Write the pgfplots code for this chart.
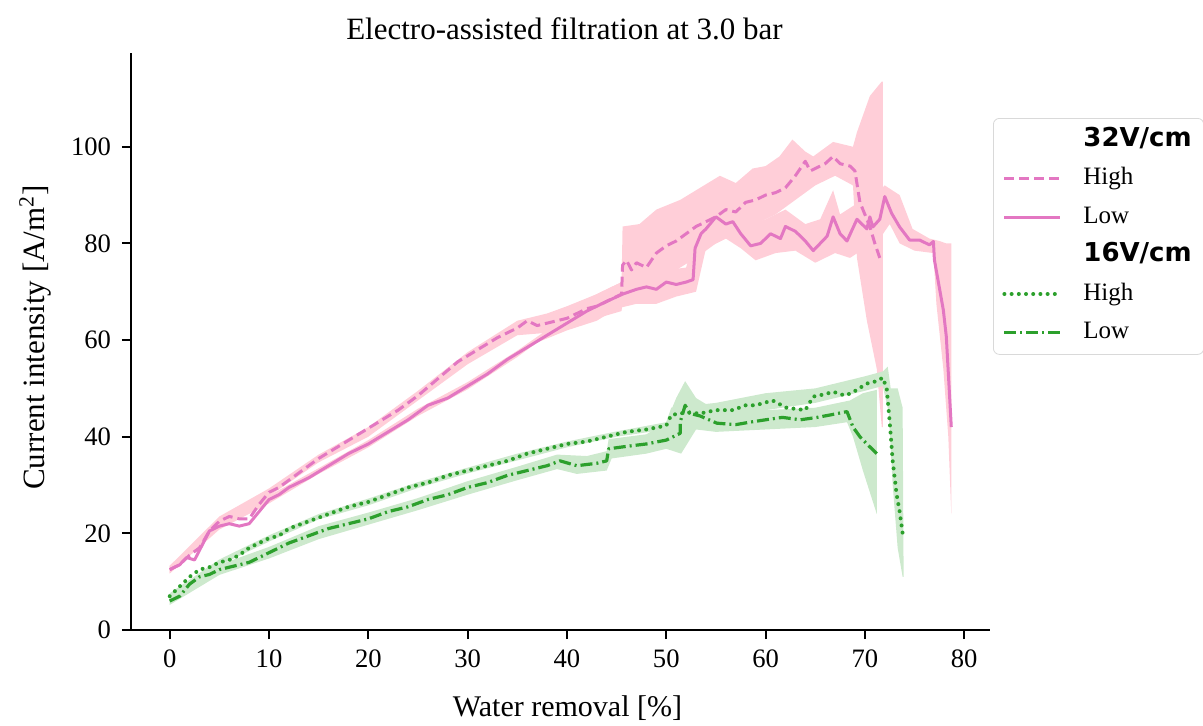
\documentclass[border=0pt]{standalone}
\usepackage{pgfplots}
\pgfplotsset{compat=1.18}
\usepackage{fontspec}
\setmainfont{Liberation Serif}
\newfontfamily\headfont{DejaVu Sans}
\definecolor{pinkline}{RGB}{227,119,194}
\definecolor{pinkband}{RGB}{255,206,216}
\definecolor{greenline}{RGB}{44,160,44}
\definecolor{greenband}{RGB}{205,233,205}
\tikzset{
  hi32/.style={pinkline, line width=1.5pt, dash pattern=on 5pt off 2.5pt},
  lo32/.style={pinkline, line width=1.5pt},
  hi16/.style={greenline, line width=2pt, line cap=round, dash pattern=on 0pt off 3.6pt},
  lo16/.style={greenline, line width=1.6pt, dash pattern=on 6pt off 2pt on 1pt off 2pt},
}
\begin{document}
\begin{tikzpicture}
\begin{axis}[
  scale only axis, width=429.5pt, height=288.5pt,
  xmin=-3.9, xmax=82.6, ymin=0, ymax=119.4,
  axis x line*=bottom, axis y line*=left,
  axis line style={-, line width=1pt},
  xtick={0,10,...,80}, ytick={0,20,...,100},
  tick align=outside, major tick length=4.5pt,
  tick style={line width=1pt, black},
  /pgf/number format/assume math mode=true,
  tick label style={font=\fontsize{13.3}{15}\selectfont},
  xticklabel style={yshift=-2pt},
  yticklabel style={xshift=-2pt},
  label style={font=\fontsize{15}{18}\selectfont},
  xlabel={Water removal [\%]},
  ylabel={Current intensity [A/m\textsuperscript{2}]},
  xlabel style={at={(axis description cs:0.5,0)}, anchor=center, yshift=-39pt, xshift=3.5pt},
  ylabel style={at={(axis description cs:0,0.5)}, anchor=center, yshift=48pt, xshift=2pt, font=\fontsize{15.5}{18}\selectfont},
  title={Electro-assisted filtration at 3.0 bar},
  title style={at={(axis description cs:0.5,1)}, anchor=center, yshift=6pt, xshift=2pt, font=\fontsize{15.5}{18}\selectfont},
  line join=round,
  legend image code/.code={\draw[#1] (0pt,0pt) -- (28pt,0pt);},
  legend cell align=left,
  legend style={at={(axis description cs:1,1)}, anchor=north west, xshift=1.5pt, yshift=-32.5pt,
    draw=black!15, rounded corners=3pt, fill=white, font=\fontsize{12.5}{14}\selectfont,
    inner xsep=4.5pt, inner ysep=3.5pt, row sep=4.2pt, column sep=9pt,
    nodes={inner sep=1.5pt, text height=9pt, text depth=3pt}},
]
% ---- bands (mean +/- spread) ----
\addplot[fill=pinkband, draw=none, forget plot] coordinates {
 (0,13.3) (5,23.5) (10,29.3) (15,36.3) (20,42) (25,49.5) (30,57.5) (35,64) (38,65.5) (40,67) (43,69.5) (45.5,72)
 (45.6,83.5) (47.3,84) (49,87) (51.4,89) (53,91) (55.4,94) (57,92.5) (58.7,95.5) (60,96) (61.4,98)
 (62.7,101.5) (64,99) (64.8,98) (66.8,101) (68.8,100) (69.2,103) (70.5,110.5) (71.7,113.5) (71.8,113.5)
 (71.8,42) (71.7,42) (71.2,54) (70.2,64) (69.2,77) (68.8,92) (67,94) (65,92) (63,89) (61,86) (59,84)
 (57,82) (55,80) (53,77) (51.4,75) (48,69.5) (45.6,68) (45.5,66) (43,64.5) (40,62.5) (38,61.5) (35,61)
 (30,55) (25,47.5) (20,40) (15,34.7) (10,27.7) (5,21.5) (0,11.7)
} -- cycle;
\addplot[fill=pinkband, draw=none, forget plot] coordinates {
 (0,13.3) (5,22.3) (10,27.8) (15,33.5) (20,39.3) (25,45.8) (30,51.3) (35,57.8) (40,65) (42,68.5) (45,71.5)
 (48,73.5) (50,74.5) (52,75) (52.9,82) (54,86) (55.5,89) (57,87) (58.5,84) (60,85) (62,87) (64,84)
 (65.5,85) (66.8,91) (67.5,86) (69,88) (70.5,89) (72,92) (73.5,90) (74.8,83) (76.5,81) (77.5,80.5)
 (78.2,80) (78.7,80)
 (78.7,24) (78.4,40) (77.9,54) (77.2,67.5) (76.9,78) (75,78.5) (73.5,80) (72.5,84) (71.5,81) (70,79)
 (68.5,77) (67,78) (65,76) (63,78.5) (61,78) (59,76.5) (57.5,79) (56,81) (54,79) (53,70) (51,69)
 (49,67.5) (47,67.5) (45,66.5) (43,64) (40,62) (37,59.5) (35,56.5) (30,49.8) (25,44.3) (20,37.8) (15,32.3)
 (10,26.2) (5,20.8) (0,11.7)
} -- cycle;
\addplot[fill=greenband, draw=none, forget plot] coordinates {
 (0,7.6) (5,14.6) (10,19.6) (15,24) (20,27.2) (25,30.6) (30,33.6) (35,36.5) (40,39) (45,41.1) (50,43)
 (50.5,46) (55,47) (60,49) (65,50) (70,52.5) (71.8,53.5) (72.3,54.5) (72.6,50) (73.3,50) (73.8,46)
 (73.9,11)
 (73.8,11) (73.3,17) (72.8,30) (72.4,45) (71.8,50.5) (70,49.5) (65,47) (60,45.5) (55,43.5) (50.5,42.5)
 (50,41.5) (45,40) (40,37.8) (35,35.1) (30,32.4) (25,29.4) (20,25.8) (15,22.9) (10,18.3) (5,13.4) (0,6.4)
} -- cycle;
\addplot[fill=greenband, draw=none, forget plot] coordinates {
 (0,6.8) (5,13.5) (10,17.2) (15,21.5) (20,24.3) (25,27.3) (30,30.8) (35,33.8) (39,36.3) (42,36) (44,37)
 (44.2,39.5) (48,40.5) (50,43) (51,48) (51.9,51.5) (53,48) (55,45.5) (60,45.5) (65,46) (68.5,47.5)
 (69.8,49) (71.2,49.7)
 (71.2,24) (69.8,33) (68.8,40) (68.2,43) (65,42) (60,41.5) (55,41) (53,41.5) (51.5,36.5) (50,37.5)
 (48,36.5) (44.5,35.5) (44,33) (41,32.3) (39,33.3) (35,31) (30,28) (25,24.8) (20,21.8) (15,18.8)
 (10,14.8) (5,11.4) (0,5.2)
} -- cycle;
% ---- 32 V/cm, high ----
\addplot[hi32, forget plot] coordinates {
 (0,12.5) (1,13.5) (2,15.5) (3,17) (4,20.5) (5,22.5) (6,23.5) (7,23) (8,23) (9,26) (10,28.5) (11,29.5)
 (12,31) (13,32.5) (15,35.5) (17,38) (19,40.5) (21,43) (23,45.5) (25,48.5) (27,52) (29,55.5) (31,58)
 (33,60.5) (35,62.5) (36,64) (37,63) (38,63.5) (39,64) (40,64.5) (41,65.5) (42,66.5) (43,67) (44,68)
 (45,69) (45.5,69.5) (45.6,75.5) (46,76.5) (46.5,74.5) (47,76) (48,75) (49,78) (50,79.5) (51,80.5)
 (52,82) (53,83.5) (54,84.5) (55,85.5) (56,87) (57,86.5) (58,88.5) (59,89) (60,90) (61,90.5) (62,91.5)
 (63,94) (64,97) (64.5,95) (65,95.5) (66,96.5) (66.8,98) (67.5,96.5) (68.5,96) (69,95) (69.5,88.5)
 (70,86) (70.5,83.5) (71,80) (71.5,77)
};
% ---- 32 V/cm, low ----
\addplot[lo32, forget plot] coordinates {
 (0,12.5) (1,13.5) (1.7,15) (2.5,14.5) (3,16.5) (4,20.5) (5,21.5) (6,22) (7,21.5) (8,22) (9,24.5)
 (10,27) (11,28) (12,29.5) (14,31.5) (16,34) (18,36.5) (20,38.5) (22,41) (24,43.5) (26,46.5) (28,48)
 (30,50.5) (32,53) (34,56) (36,58.5) (38,61) (40,63.5) (42,66) (44,68) (45.6,69.5) (47,70.5) (48,71)
 (49,70.5) (50,72) (51,71.5) (52,72) (52.7,72.5) (52.9,79) (53.5,82) (54,83) (55,85.5) (56,84)
 (56.7,84.5) (57.5,82) (58.5,79.5) (59.5,80) (60.5,82) (61.5,81) (62,83.5) (63,82.5) (64,80.5)
 (64.8,78.5) (65.5,80) (66.2,81.5) (66.8,85.5) (67.5,82) (68.2,80.5) (69.2,85) (70.2,83) (70.5,85.5)
 (70.8,83.4) (71.5,85) (72,89.7) (72.7,86.2) (73.5,83.4) (74.5,80.7) (75.5,80.7) (76.5,79.7)
 (76.9,80.4) (77,76.6) (77.9,66.2) (78.2,60.7) (78.7,42)
};
% ---- 16 V/cm, high ----
\addplot[hi16, forget plot] coordinates {
 (0,7) (1,9) (2,11) (3,12.5) (4,13) (5,14) (6,14.5) (7,15.5) (8,17) (9,18) (10,19) (11,19.5) (12,21)
 (14,22.5) (16,24) (18,25.5) (20,26.5) (22,28) (24,29.5) (26,30.5) (28,32) (30,33) (32,34) (34,35)
 (36,36.5) (38,37.5) (40,38.5) (42,39) (44,40) (46,41) (48,41.5) (50,42.3) (50.5,44.5) (52,45)
 (53.4,44.8) (55,45.5) (56.7,45.5) (58,46.5) (59,46.5) (60.7,47.5) (62.1,46) (64,45.5) (64.8,48.3)
 (66,48.8) (66.8,49.3) (68,48.5) (68.8,49.2) (70.2,51) (71.2,51.5) (71.8,52.2) (72.2,50) (72.5,43)
 (72.8,35) (73.2,28) (73.5,24.5) (73.8,20)
};
% ---- 16 V/cm, low ----
\addplot[lo16, forget plot] coordinates {
 (0,6) (1,7) (2,9.5) (3,11) (4,11.5) (5,12.5) (6,13) (7,13.5) (8,14) (9,15) (10,16) (12,18) (14,19.5)
 (16,21) (18,22) (20,23) (22,24.5) (24,25.5) (26,27) (28,28) (30,29.5) (32,30.5) (34,32) (36,33)
 (38,34) (39.3,35) (41,34) (43,34.5) (44,35) (44.2,37.5) (46,38) (48,38.5) (50,39.3) (51.4,40.7)
 (51.4,43) (51.9,46.5) (52.4,44.8) (53.4,44.3) (55.1,42.8) (57,42.5) (58.4,43) (60,43.5) (61.7,44)
 (63.5,43.5) (65.2,44) (66.5,44.5) (68.2,45.2) (68.8,42) (69.5,40) (70.2,38.5) (71.2,36.5)
};
% ---- legend ----
\addlegendimage{empty legend}
\addlegendentry{\headfont\bfseries\fontsize{13}{15}\selectfont 32V/cm}
\addlegendimage{hi32}
\addlegendentry{High}
\addlegendimage{lo32}
\addlegendentry{Low}
\addlegendimage{empty legend}
\addlegendentry{\headfont\bfseries\fontsize{13}{15}\selectfont 16V/cm}
\addlegendimage{hi16}
\addlegendentry{High}
\addlegendimage{lo16}
\addlegendentry{Low}
\end{axis}
\pgfresetboundingbox
\useasboundingbox ([shift={(-65.5pt,-47.5pt)}]current axis.south west) rectangle ++(601.5pt,362.5pt);
\end{tikzpicture}
\end{document}
